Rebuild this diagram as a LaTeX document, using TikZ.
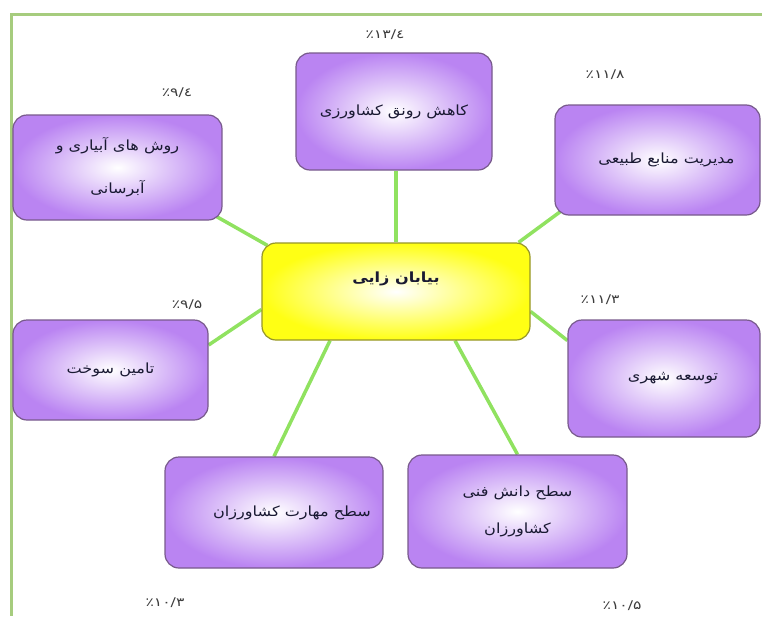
\documentclass[tikz,border=0pt]{standalone}
\usepackage{fontspec}
\TeXXeTstate=1
\newfontfamily\arabicfont[Script=Arabic, FakeStretch=1.15]{DejaVu Sans}
\newfontfamily\numfont[FakeStretch=1.3]{DejaVu Sans}
\usetikzlibrary{backgrounds}
\definecolor{boxviolet}{RGB}{186,132,242}
\definecolor{boxedge}{RGB}{120,90,140}
\definecolor{centeryellow}{RGB}{255,255,20}
\definecolor{centeredge}{RGB}{150,150,40}
\definecolor{linkgreen}{RGB}{144,226,96}
\definecolor{framegreen}{RGB}{166,204,126}
\definecolor{txtdark}{RGB}{25,25,50}
\definecolor{pctgray}{RGB}{60,60,60}
\tikzset{
  topicbox/.style={draw=boxedge, line width=1.2pt, rounded corners=14pt,
    inner color=white, outer color=boxviolet, align=center,
    font=\arabicfont\fontsize{14}{17}\selectfont, text=txtdark},
  corebox/.style={draw=centeredge, line width=1.2pt, rounded corners=14pt,
    inner color=white, outer color=centeryellow, align=center,
    font=\arabicfont\bfseries\fontsize{14}{17}\selectfont, text=txtdark},
  pct/.style={font=\numfont\fontsize{12}{14}\selectfont, text=pctgray},
  link/.style={draw=linkgreen, line width=3.5pt},
  frameline/.style={draw=framegreen, line width=3pt}
}
\begin{document}
\begin{tikzpicture}[x=1pt,y=-1pt]
\useasboundingbox (0,0) rectangle (762,616);
% nodes
\node[corebox, minimum width=268pt, minimum height=97pt] (c) at (396,291.5)
  {\raisebox{9pt}[0pt][0pt]{\beginR بیابان زایی\endR}};
\node[topicbox, minimum width=196pt, minimum height=117pt] (t) at (394,111.5)
  {\beginR کاهش رونق کشاورزی\endR};
\node[topicbox, minimum width=209pt, minimum height=105pt] (tl) at (117.5,167.5)
  {\beginR روش های آبیاری و\endR\\[26pt]\beginR آبرسانی\endR};
\node[topicbox, minimum width=205pt, minimum height=110pt] (tr) at (657.5,160)
  {\hspace*{18pt}\beginR مدیریت منابع طبیعی\endR};
\node[topicbox, minimum width=195pt, minimum height=100pt] (lm) at (110.5,370)
  {\beginR تامین سوخت\endR};
\node[topicbox, minimum width=192pt, minimum height=117pt] (rm) at (664,378.5)
  {\hspace*{18pt}\beginR توسعه شهری\endR};
\node[topicbox, minimum width=218pt, minimum height=111pt] (bl) at (274,512.5)
  {\hspace*{36pt}\beginR سطح مهارت کشاورزان\endR};
\node[topicbox, minimum width=219pt, minimum height=113pt] (br) at (517.5,511.5)
  {\beginR سطح دانش فنی\endR\\[20pt]\beginR کشاورزان\endR};
% percentages
\node[pct] (pt)  at (385,35)  {٪۱۳/٤};
\node[pct] (ptl) at (177,93)  {٪۹/٤};
\node[pct] (ptr) at (605,75)  {٪۱۱/۸};
\node[pct] (plm) at (187,305) {٪۹/۵};
\node[pct] (prm) at (600,300) {٪۱۱/۳};
\node[pct] (pbl) at (165,603) {٪۱۰/۳};
\node[pct] (pbr) at (622,606) {٪۱۰/۵};
\begin{pgfonlayer}{background}
  \fill[white] (0,0) rectangle (762,616);
  \coordinate (fa) at (762,14);
  \coordinate (fb) at (11,14);
  \coordinate (fc) at (11,616);
  \draw[frameline] (fa) -- (fb) -- (fc);
  \draw[link] (c.north) -- (c.north |- t.south);
  \draw[link] ([xshift=-6pt,yshift=4pt]tl.south east) -- ([xshift=6pt,yshift=-3pt]c.north west);
  \draw[link] ([xshift=-12pt]c.north east) -- ([xshift=6pt,yshift=4pt]tr.south west);
  \draw[link] ([yshift=25pt]lm.east) -- ([yshift=-18pt]c.west);
  \draw[link] ([yshift=-20pt]c.east) -- ([yshift=38pt]rm.west);
  \draw[link] ([xshift=-66pt]c.south) -- (bl.north);
  \draw[link] ([xshift=59pt]c.south) -- (br.north);
\end{pgfonlayer}
\end{tikzpicture}
\end{document}
